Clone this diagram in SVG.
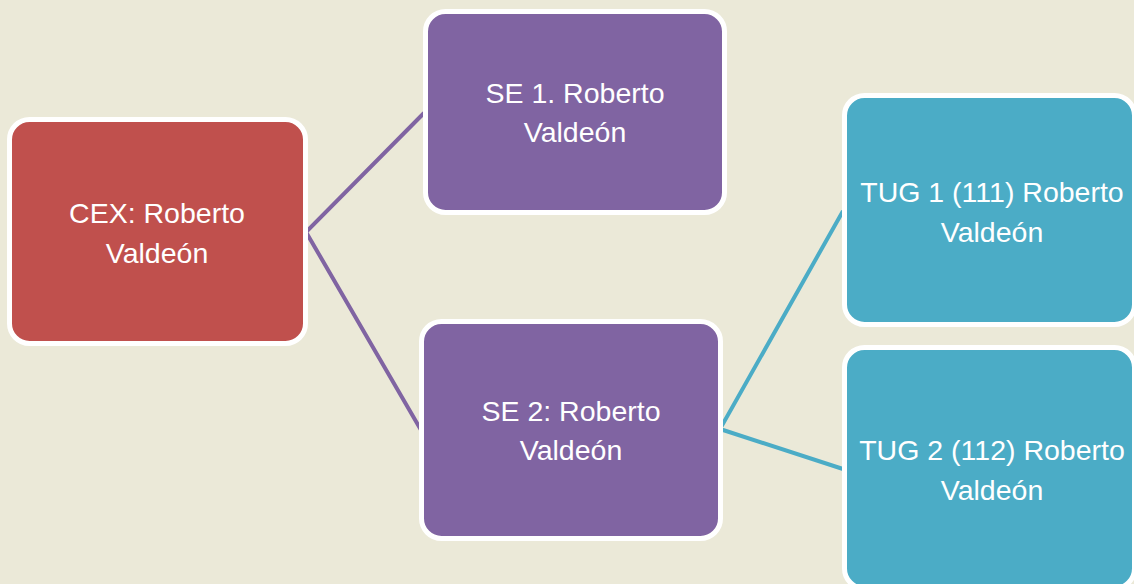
<svg xmlns="http://www.w3.org/2000/svg" width="1134" height="584" viewBox="0 0 1134 584">
<style>
.node{stroke:#FFFFFF;stroke-width:5}
.red{fill:#C0504D}
.purple{fill:#8064A2}
.teal{fill:#4BACC6}
.lbl{font-family:"Liberation Sans",Arial,sans-serif;font-size:28.5px;fill:#FFFFFF;text-anchor:middle}
.c-p{stroke:#8064A2;stroke-width:4;fill:none}
.c-t{stroke:#4BACC6;stroke-width:4;fill:none}
</style>
<rect x="0" y="0" width="1134" height="584" fill="#EBE9D8"/>
<g id="connectors">
<polyline class="c-p" points="424,113 306,232 421,430"/>
<polyline class="c-t" points="843,211 720,429 843,469"/>
</g>
<g id="cex">
<rect class="node red" x="9.5" y="119.5" width="296" height="224" rx="20"/>
<text class="lbl" x="157" y="223">CEX: Roberto</text>
<text class="lbl" x="157" y="263">Valdeón</text>
</g>
<g id="se1">
<rect class="node purple" x="425.5" y="11.5" width="299" height="201" rx="20"/>
<text class="lbl" x="575" y="103">SE 1. Roberto</text>
<text class="lbl" x="575" y="142">Valdeón</text>
</g>
<g id="se2">
<rect class="node purple" x="421.5" y="321.5" width="299" height="217" rx="20"/>
<text class="lbl" x="571" y="421">SE 2: Roberto</text>
<text class="lbl" x="571" y="460">Valdeón</text>
</g>
<g id="tug1">
<rect class="node teal" x="844.5" y="95.5" width="290" height="229" rx="20"/>
<text class="lbl" x="992" y="202">TUG 1 (111) Roberto</text>
<text class="lbl" x="992" y="242">Valdeón</text>
</g>
<g id="tug2">
<rect class="node teal" x="844.5" y="347.5" width="290" height="241" rx="20"/>
<text class="lbl" x="992" y="460">TUG 2 (112) Roberto</text>
<text class="lbl" x="992" y="500">Valdeón</text>
</g>
</svg>
